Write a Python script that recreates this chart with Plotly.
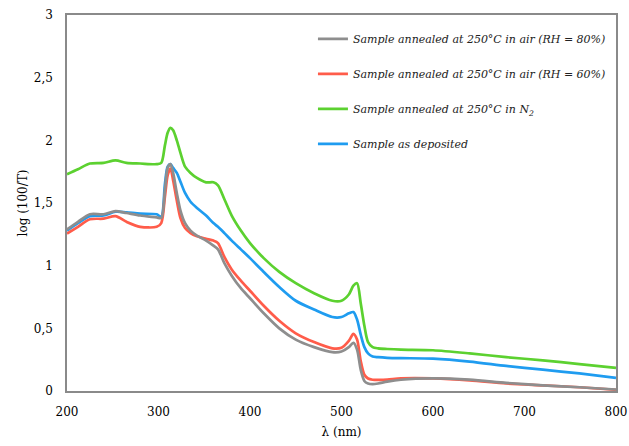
import plotly.graph_objects as go

wavelength = [200, 212, 225, 240, 253, 265, 280, 298, 303, 307, 310, 313, 316, 320, 324, 329, 335, 342,
              352, 360, 365, 372, 380, 390, 400, 415, 432, 450, 470, 490, 500, 508, 513, 517, 521, 525,
              529, 534, 540, 550, 565, 600, 640, 680, 720, 760, 800]

n2 = [1.73, 1.77, 1.815, 1.82, 1.84, 1.82, 1.815, 1.81, 1.82, 1.96, 2.06, 2.10, 2.08, 2.00, 1.90, 1.79, 1.74, 1.70,
      1.665, 1.665, 1.64, 1.53, 1.40, 1.28, 1.18, 1.06, 0.95, 0.86, 0.78, 0.72, 0.72, 0.77, 0.84, 0.86, 0.70, 0.52,
      0.39, 0.35, 0.34, 0.335, 0.33, 0.325, 0.30, 0.27, 0.245, 0.215, 0.185]

deposited = [1.28, 1.34, 1.395, 1.40, 1.43, 1.425, 1.415, 1.41, 1.39, 1.65, 1.79, 1.81, 1.78, 1.74, 1.67, 1.58, 1.51, 1.46,
             1.40, 1.34, 1.31, 1.26, 1.20, 1.13, 1.06, 0.95, 0.83, 0.72, 0.65, 0.59, 0.59, 0.62, 0.63, 0.57, 0.45, 0.35,
             0.30, 0.275, 0.27, 0.265, 0.262, 0.258, 0.235, 0.20, 0.17, 0.14, 0.105]

rh60 = [1.256, 1.31, 1.37, 1.375, 1.395, 1.35, 1.31, 1.31, 1.34, 1.55, 1.72, 1.775, 1.68, 1.52, 1.38, 1.30, 1.26, 1.235,
        1.215, 1.20, 1.18, 1.07, 0.97, 0.88, 0.80, 0.68, 0.56, 0.46, 0.39, 0.34, 0.345, 0.40, 0.455, 0.41, 0.24, 0.13,
        0.10, 0.09, 0.088, 0.09, 0.10, 0.10, 0.085, 0.06, 0.045, 0.03, 0.01]

rh80 = [1.29, 1.35, 1.41, 1.41, 1.435, 1.42, 1.40, 1.385, 1.38, 1.60, 1.78, 1.81, 1.74, 1.58, 1.44, 1.34, 1.28, 1.24,
        1.20, 1.16, 1.13, 1.02, 0.92, 0.82, 0.74, 0.62, 0.50, 0.41, 0.35, 0.31, 0.315, 0.35, 0.385, 0.33, 0.17, 0.08,
        0.06, 0.055, 0.06, 0.075, 0.09, 0.10, 0.09, 0.065, 0.045, 0.03, 0.012]

names = ["Sample as deposited",
         "Sample annealed at 250°C in N<sub>2</sub>",
         "Sample annealed at 250°C in air (RH = 60%)",
         "Sample annealed at 250°C in air (RH = 80%)"]
series = [deposited, n2, rh60, rh80]
colors = ["#1f9cf0", "#5cd130", "#ff5c4a", "#8e8e8e"]
ranks = [4, 3, 2, 1]

fig = go.Figure()
for name, ys, col, rk in zip(names, series, colors, ranks):
    fig.add_trace(go.Scatter(x=wavelength, y=ys, mode="lines", name=name,
                             line=dict(color=col, width=2.7, shape="spline", smoothing=0.8),
                             legendrank=rk, legendgroup=name))

serif = "DejaVu Serif"
fig.update_layout(
    width=629, height=446,
    margin=dict(l=67, r=13, t=15, b=55),
    plot_bgcolor="white", paper_bgcolor="white",
    separators=", ",
    font=dict(family=serif, size=12, color="black"),
    showlegend=True,
    legend=dict(x=0.448, y=0.975, xanchor="left", yanchor="top",
                bgcolor="rgba(0,0,0,0)", tracegroupgap=16, itemwidth=30,
                font=dict(family=serif, size=11, style="italic", color="#222")),
    xaxis=dict(range=[200, 800], tickvals=[200, 300, 400, 500, 600, 700, 800],
               showgrid=False, zeroline=False, showline=True, linecolor="#8a8a8a", linewidth=1.5,
               mirror=True, ticks="", ticklabelstandoff=9, automargin=False,
               tickfont=dict(family=serif, size=12),
               title=dict(text="λ (nm)", standoff=9, font=dict(family=serif, size=12))),
    yaxis=dict(range=[0, 3], tickvals=[0, 0.5, 1, 1.5, 2, 2.5, 3],
               showgrid=False, zeroline=False, showline=True, linecolor="#8a8a8a", linewidth=1.5,
               mirror=True, ticks="", ticklabelstandoff=10, automargin=False,
               tickfont=dict(family=serif, size=12),
               title=dict(text="log (100/T)", standoff=4, font=dict(family=serif, size=12))),
)

fig.write_html("out.html")
